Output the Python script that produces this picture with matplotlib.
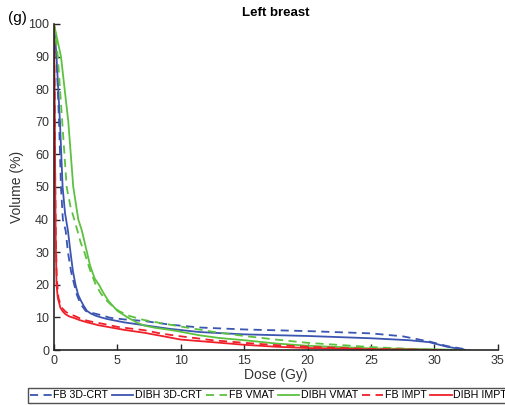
import numpy as np
import matplotlib
matplotlib.use('Agg')
import matplotlib.pyplot as plt

plt.rcParams['font.family'] = ['Liberation Sans', 'DejaVu Sans']

# Dose-volume curves: dose (Gy), volume (%)
fb_crt_x = [0, 0.2, 0.4, 0.55, 0.7, 0.92, 1.1, 1.35, 1.6, 1.8, 2.0, 2.25, 2.5, 2.8, 3.2, 3.9, 4.4, 5.5, 7.1, 9.1, 11.5, 15, 20, 25, 27.5, 29.6, 31, 32.8]
fb_crt_y = [100, 90, 70, 50, 40, 36.6, 30, 24, 20, 17, 15, 13.3, 12, 11.5, 11.2, 10.5, 9.9, 9.4, 8.9, 7.8, 6.9, 6.3, 5.8, 5.1, 4.2, 2.6, 1.2, 0]

dibh_crt_x = [0, 0.2, 0.47, 0.68, 0.87, 1.1, 1.3, 1.5, 1.7, 1.9, 2.1, 2.35, 2.6, 2.9, 3.3, 3.8, 4.2, 5.5, 7.1, 9.1, 11.5, 15, 20, 25, 28, 29.6, 31, 32.5]
dibh_crt_y = [100, 90, 70, 50, 42, 36.6, 30, 24, 20, 17, 15.3, 13.5, 12, 11.2, 10.5, 9.9, 9.5, 8.5, 7.6, 6.5, 5.5, 4.8, 4.3, 3.6, 3.0, 2.4, 1.0, 0]

fb_vmat_x = [0, 0.3, 0.65, 1.0, 1.3, 1.6, 1.85, 2.1, 2.4, 2.8, 3.3, 3.7, 4.2, 4.6, 5.1, 5.9, 7.1, 8.5, 10, 12.5, 15, 17.5, 20, 25, 30]
fb_vmat_y = [100, 90, 70, 50, 44, 40, 36.6, 33, 30, 25, 20, 17.3, 15, 13.5, 12, 10.5, 9.2, 8.2, 7.2, 5.6, 4.3, 3.2, 2.2, 0.9, 0]

dibh_vmat_x = [0, 0.55, 1.13, 1.52, 1.92, 2.2, 2.6, 2.84, 3.2, 3.55, 3.9, 4.3, 5.0, 5.8, 6.5, 7.1, 8, 9.1, 10, 11.5, 13, 15, 17.5, 20, 25, 30, 32.2]
dibh_vmat_y = [100, 90, 70, 50, 40, 36.6, 30, 26, 22, 20, 17.5, 15, 12, 10, 8.5, 7.5, 6.8, 6.2, 5.6, 4.5, 3.7, 3.0, 2.0, 1.3, 0.5, 0.2, 0]

fb_impt_x = [0, 0.05, 0.1, 0.14, 0.22, 0.35, 0.6, 0.9, 1.2, 1.6, 2.0, 2.6, 3.2, 3.9, 5, 6, 7.1, 8.5, 10, 12.5, 15, 17.5, 20, 25, 30]
fb_impt_y = [100, 80, 50, 36, 22, 16, 13, 11.8, 11, 10.5, 9.8, 9.0, 8.5, 8.0, 7.1, 6.6, 6.1, 5.0, 4.2, 3.0, 2.2, 1.5, 1.0, 0.3, 0]

dibh_impt_x = [0, 0.05, 0.1, 0.13, 0.2, 0.3, 0.5, 0.7, 0.9, 1.2, 1.6, 2.0, 2.6, 3.5, 4.5, 5.5, 7.1, 8.5, 10, 12.5, 15, 17.5, 20, 25, 30.7]
dibh_impt_y = [100, 80, 50, 36, 20, 16, 13, 11.8, 11, 10.3, 9.8, 9.2, 8.5, 7.6, 6.9, 6.2, 5.3, 4.3, 3.2, 2.4, 1.6, 1.0, 0.6, 0.2, 0]

blue = '#3b55b0'
green = '#5cc13f'
red = '#f0202a'
dash = (0, (4.5, 3))

fig = plt.figure(figsize=(5.06, 4.05), dpi=100)
ax = fig.add_axes([0.1067, 0.1358, 0.877, 0.805])

ax.plot(fb_crt_x, fb_crt_y, color=blue, ls=dash, lw=1.3, label='FB 3D-CRT')
ax.plot(dibh_crt_x, dibh_crt_y, color=blue, lw=1.3, label='DIBH 3D-CRT')
ax.plot(fb_vmat_x, fb_vmat_y, color=green, ls=dash, lw=1.3, label='FB VMAT')
ax.plot(dibh_vmat_x, dibh_vmat_y, color=green, lw=1.3, label='DIBH VMAT')
ax.plot(fb_impt_x, fb_impt_y, color=red, ls=dash, lw=1.3, label='FB IMPT')
ax.plot(dibh_impt_x, dibh_impt_y, color=red, lw=1.3, label='DIBH IMPT')

ax.set_xlim(0, 35)
ax.set_ylim(0, 100)
ax.set_xticks(np.arange(0, 36, 5))
ax.set_yticks(np.arange(0, 101, 10))
ax.spines['top'].set_visible(False)
ax.spines['right'].set_visible(False)
for s in ['left', 'bottom']:
    ax.spines[s].set_linewidth(1.2)
    ax.spines[s].set_color('#262626')
ax.tick_params(direction='in', length=4, width=1, colors='#262626', labelsize=9, labelcolor='#333333')

ax.set_xlabel('Dose (Gy)', fontsize=10, color='#333333', labelpad=1)
ax.set_ylabel('Volume (%)', fontsize=10, color='#333333', labelpad=3)
ax.set_title('Left breast', fontsize=9.5, fontweight='bold', pad=6)
fig.text(0.015, 0.945, '(g)', fontsize=11)

leg = fig.legend(loc='center', bbox_to_anchor=(0.531, 0.024), ncol=6, fontsize=7.7,
                 frameon=True, fancybox=False, edgecolor='#262626', handlelength=2.0,
                 handletextpad=0.15, columnspacing=0.35, borderpad=0.25)
leg.get_frame().set_linewidth(1.0)

fig.savefig('out.png', dpi=100)
